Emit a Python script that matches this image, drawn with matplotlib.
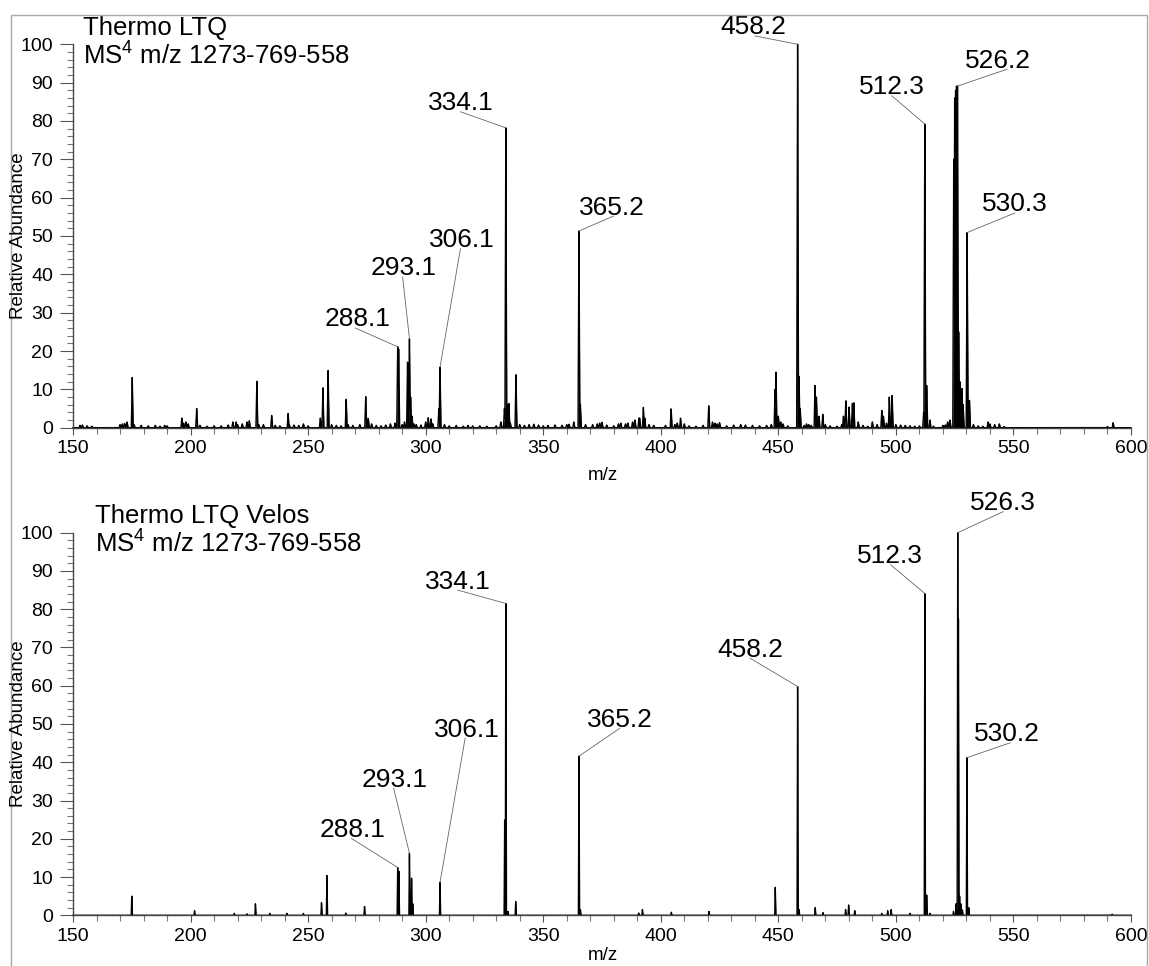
import numpy as np
import matplotlib
matplotlib.use('Agg')
import matplotlib.pyplot as plt
from matplotlib.patches import Rectangle
from matplotlib.ticker import MultipleLocator

plt.rcParams['font.family'] = ['Liberation Sans', 'DejaVu Sans']
plt.rcParams['mathtext.fontset'] = 'custom'
plt.rcParams['mathtext.rm'] = 'Liberation Sans'
plt.rcParams['mathtext.it'] = 'Liberation Sans'

# ---------------- data: Thermo LTQ (top) ----------------
ltq_mz = [175.2, 196.3, 202.6, 219.4, 228.2, 234.5, 241.5, 255.2, 256.3, 258.5,
          266.2, 274.5, 275.6, 288.1, 288.5, 292.3, 293.1, 293.6, 294.2, 301.1,
          302.3, 305.6, 306.1, 333.5, 334.1, 334.6, 335.4, 338.4,
          365.2, 365.8, 390.7, 392.6, 393.2, 404.4, 408.4, 420.4, 448.6, 449.0,
          458.2, 458.8, 459.3, 465.6, 466.2, 467.3, 468.9, 477.7, 478.7, 480.1,
          481.5, 482.1, 494.0, 494.7, 497.2, 498.4, 511.8, 512.3, 513.1, 514.5,
          524.6, 525.0, 525.4, 525.8, 526.2, 526.7, 527.2, 527.7, 528.1, 528.6,
          530.3, 531.3, 539.2, 592.4]
ltq_int = [13.1, 2.5, 5.0, 1.5, 12.1, 3.2, 3.7, 2.5, 10.4, 14.9,
           7.4, 8.1, 2.4, 21.1, 20.5, 17.1, 23.2, 8.0, 3.0, 2.6,
           2.3, 5.0, 15.8, 5.0, 78.2, 6.0, 6.3, 13.8,
           51.3, 6.1, 2.5, 5.3, 2.5, 4.9, 2.5, 5.7, 10.0, 14.5,
           100.0, 13.4, 5.0, 11.0, 8.0, 3.0, 3.5, 3.0, 7.0, 5.4,
           6.3, 6.5, 4.5, 3.0, 8.0, 8.4, 4.0, 79.2, 11.0, 2.0,
           70.0, 86.0, 88.0, 89.1, 89.1, 25.0, 12.0, 9.9, 10.2, 6.0,
           50.9, 7.1, 1.5, 1.3]

# low-level baseline peaks of the LTQ spectrum
ltq_noise_mz = [153, 154, 156, 158, 170, 171, 172, 173, 176, 179, 182, 185, 187, 189,
                190, 197, 198, 199, 204, 207, 210, 213, 216, 218, 220, 222, 224, 225,
                229, 231, 236, 238, 242, 244, 246, 248, 250, 260, 262, 264, 267, 269,
                272, 277, 279, 281, 283, 285, 287, 290, 291, 295, 296, 298, 300, 303,
                308, 310, 313, 316, 318, 320, 323, 326, 330, 332, 336, 340, 342, 344,
                346, 348, 350, 352, 355, 358, 360, 361, 363, 368, 371, 373, 374, 375,
                377, 380, 382, 383, 385, 386, 388, 389, 391, 395, 397, 402, 406, 407,
                410, 412, 415, 418, 422, 423, 424, 425, 428, 431, 434, 436, 439, 442,
                445, 447, 450, 451, 452, 454, 461, 462, 463, 464, 470, 472, 475, 477,
                484, 486, 488, 490, 492, 496, 500, 502, 504, 506, 508, 510, 516, 520,
                521, 522, 523, 533, 535, 537, 540, 542, 544, 546, 590]
ltq_noise_int = [0.6, 0.7, 0.5, 0.4, 0.8, 1.0, 1.1, 1.5, 0.8, 0.6, 0.5, 0.6, 0.4, 0.6,
                 0.5, 1.2, 1.5, 1.0, 0.6, 0.4, 0.5, 0.5, 0.7, 1.5, 0.8, 1.0, 1.5, 1.8,
                 0.8, 0.8, 0.6, 0.5, 0.8, 0.7, 0.6, 1.0, 0.5, 0.8, 0.6, 0.5, 0.8, 0.6,
                 0.8, 1.0, 0.6, 0.5, 0.7, 1.0, 1.2, 0.8, 1.5, 1.0, 0.8, 0.7, 1.5, 1.0,
                 0.8, 0.5, 0.6, 0.4, 0.6, 0.5, 0.5, 0.4, 0.5, 1.5, 1.2, 0.8, 0.6, 0.8,
                 0.9, 0.7, 0.5, 0.6, 0.7, 0.6, 0.8, 0.9, 1.5, 0.8, 0.8, 1.0, 1.2, 1.4,
                 0.7, 0.5, 1.0, 1.2, 1.0, 1.2, 1.5, 2.0, 2.5, 0.8, 0.6, 0.6, 0.8, 1.2,
                 1.0, 0.5, 0.4, 0.6, 1.5, 1.2, 1.0, 1.3, 0.5, 0.7, 0.8, 0.7, 0.6, 0.5,
                 0.6, 0.8, 3.0, 1.5, 1.0, 0.5, 0.6, 1.0, 0.8, 0.6, 0.8, 0.5, 0.4, 0.8,
                 1.5, 0.6, 0.4, 1.5, 0.8, 1.2, 0.8, 0.7, 0.6, 0.5, 0.4, 0.5, 0.4, 0.6,
                 0.7, 1.5, 2.0, 0.8, 0.5, 0.4, 1.0, 0.8, 1.0, 0.3, 0.3]

ltq_lab_text = ['288.1', '293.1', '306.1', '334.1', '365.2', '458.2', '512.3', '526.2', '530.3']
ltq_lab_mz = [288.1, 293.1, 306.1, 334.1, 365.2, 458.2, 512.3, 526.2, 530.3]
ltq_lab_int = [21.1, 23.2, 15.8, 78.2, 51.3, 100.0, 79.2, 89.1, 50.9]
ltq_lab_tx = [270.9, 290.5, 315.6, 314.8, 379.1, 439.2, 498.2, 543.4, 550.6]
ltq_lab_lx = [270.1, 290.2, 314.8, 314.8, 379.9, 440.0, 498.2, 547.3, 550.6]
ltq_lab_ly = [26.0, 39.3, 46.7, 82.4, 55.2, 102.2, 86.6, 93.5, 56.0]

# ---------------- data: Thermo LTQ Velos (bottom) ----------------
velos_mz = [175.0, 201.7, 218.6, 224.0, 227.6, 233.7, 241.0, 248.0, 255.7, 258.0,
            266.0, 274.0, 288.1, 288.6, 293.1, 294.0, 294.5, 306.1, 333.6, 334.1,
            335.0, 338.3, 365.2, 365.8, 390.6, 392.2, 404.5, 420.5, 448.7, 458.2,
            458.8, 465.7, 469.0, 478.6, 479.9, 482.5, 494.0, 496.5, 498.0, 506.0,
            512.3, 513.1, 514.5, 524.5, 525.6, 526.3, 526.6, 527.1, 527.6, 528.3,
            530.2, 531.0, 592.0]
velos_int = [5.0, 1.2, 0.5, 0.4, 3.0, 0.5, 0.5, 0.5, 3.3, 10.4,
             0.6, 2.3, 12.5, 11.5, 16.2, 9.7, 3.0, 8.6, 24.9, 81.5,
             1.0, 3.6, 41.6, 1.5, 0.6, 1.5, 0.8, 1.0, 7.3, 59.8,
             1.5, 2.0, 0.7, 1.5, 2.7, 1.2, 0.5, 1.2, 1.5, 0.5,
             84.1, 5.3, 0.5, 1.0, 3.0, 100.0, 77.4, 5.0, 3.0, 1.4,
             41.2, 2.0, 0.3]

velos_lab_text = ['288.1', '293.1', '306.1', '334.1', '365.2', '458.2', '512.3', '526.3', '530.2']
velos_lab_mz = [288.1, 293.1, 306.1, 334.1, 365.2, 458.2, 512.3, 526.3, 530.2]
velos_lab_int = [12.5, 16.2, 8.6, 81.5, 41.6, 59.8, 84.1, 100.0, 41.2]
velos_lab_tx = [268.7, 286.9, 317.6, 313.6, 382.6, 438.0, 497.3, 545.6, 547.2]
velos_lab_lx = [268.4, 286.4, 316.8, 313.6, 382.6, 438.0, 497.8, 545.6, 548.7]
velos_lab_ly = [20.1, 33.2, 46.3, 85.0, 48.9, 67.2, 91.6, 105.5, 45.1]

titles = [('Thermo LTQ', r'MS$^{\mathrm{4}}$ m/z 1273-769-558'),
          ('Thermo LTQ Velos', r'MS$^{\mathrm{4}}$ m/z 1273-769-558')]
title_x = [154.3, 159.4]
title_y1 = [102.4, 102.5]
title_y2 = [94.7, 94.7]

x_ticks = [150, 200, 250, 300, 350, 400, 450, 500, 550, 600]
y_ticks = [0, 10, 20, 30, 40, 50, 60, 70, 80, 90, 100]


def profile(grid, mz, inten, hw):
    y = np.zeros_like(grid)
    for m, h in zip(mz, inten):
        y = np.maximum(y, h * np.clip(1.0 - np.abs(grid - m) / hw, 0.0, None))
    return y


W, H = 1149, 966
fig = plt.figure(figsize=(W / 100, H / 100), dpi=100)
fig.patches.append(Rectangle((11 / W, -0.05), (1147 - 11) / W, (1 - 15 / H) + 0.05,
                             transform=fig.transFigure, fill=False,
                             edgecolor='#a8a8a8', lw=1.0))

ax_top = fig.add_axes([73 / W, 1 - 427.7 / H, (1131 - 73) / W, (427.7 - 44.3) / H])
ax_bot = fig.add_axes([73 / W, 1 - 915.3 / H, (1131 - 73) / W, (915.3 - 532.7) / H])

grid = np.arange(150.0, 600.0, 0.02)
spec_top = np.maximum(profile(grid, ltq_mz, ltq_int, 0.4),
                      profile(grid, ltq_noise_mz, ltq_noise_int, 0.45))
spec_bot = profile(grid, velos_mz, velos_int, 0.24)

panels = [
    (ax_top, spec_top, ltq_lab_text, ltq_lab_mz, ltq_lab_int, ltq_lab_tx, ltq_lab_lx, ltq_lab_ly),
    (ax_bot, spec_bot, velos_lab_text, velos_lab_mz, velos_lab_int, velos_lab_tx, velos_lab_lx, velos_lab_ly),
]

for i, (ax, spec, lt, lmz, lint, ltx, llx, lly) in enumerate(panels):
    ax.fill_between(grid, 0, spec, color='black', lw=0, clip_on=False)
    ax.plot(grid, spec, color='black', lw=1.0, clip_on=False)
    ax.set_xlim(150, 600)
    ax.set_ylim(0, 100)
    for s in ('top', 'right'):
        ax.spines[s].set_visible(False)
    for s in ('left', 'bottom'):
        ax.spines[s].set_color('#444444')
        ax.spines[s].set_linewidth(1.0)
    ax.set_xticks(x_ticks)
    ax.set_yticks(y_ticks)
    ax.xaxis.set_minor_locator(MultipleLocator(10))
    ax.yaxis.set_minor_locator(MultipleLocator(2))
    ax.tick_params(axis='x', which='major', length=5, width=0.8, color='#555555',
                   labelsize=14, pad=4)
    ax.tick_params(axis='x', which='minor', length=4.3, width=0.8, color='#777777')
    ax.tick_params(axis='y', which='major', length=9.4, width=0.8, color='#555555',
                   labelsize=14, pad=5)
    ax.tick_params(axis='y', which='minor', length=4.3, width=0.8, color='#777777')
    ax.patch.set_alpha(0)

    for t, m, h, tx, lx, ly in zip(lt, lmz, lint, ltx, llx, lly):
        ax.plot([lx, m], [ly, h], color='#666666', lw=0.6, clip_on=False)
        ax.text(tx, ly + 0.4, t, ha='center', va='baseline', fontsize=19, clip_on=False)

    ax.text(title_x[i], title_y1[i], titles[i][0], ha='left', va='baseline',
            fontsize=18.5, clip_on=False)
    ax.text(title_x[i], title_y2[i], titles[i][1], ha='left', va='baseline',
            fontsize=18.5, clip_on=False)

fig.text(19 / W, 1 - 236 / H, 'Relative Abundance', rotation=90, ha='center', va='center', fontsize=13.5)
fig.text(19 / W, 1 - 724 / H, 'Relative Abundance', rotation=90, ha='center', va='center', fontsize=13.5)
fig.text(603 / W, 1 - 475 / H, 'm/z', ha='center', va='center', fontsize=13.5)
fig.text(603 / W, 1 - 955 / H, 'm/z', ha='center', va='center', fontsize=13.5)

fig.savefig('out.png', dpi=100)
